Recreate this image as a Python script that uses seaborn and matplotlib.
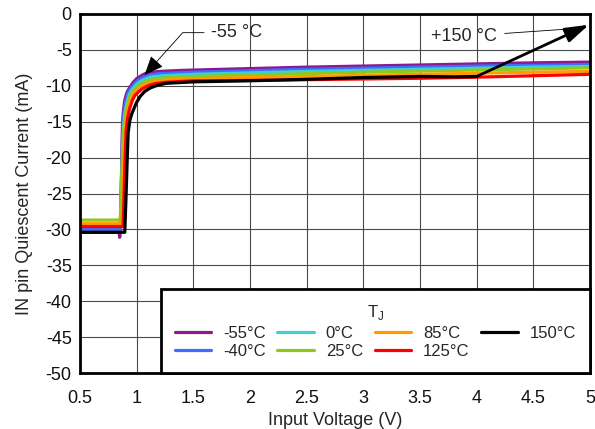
import matplotlib
matplotlib.use("Agg")
import matplotlib.pyplot as plt
import seaborn as sns
import pandas as pd

# ---- data ----
labels = ["-55°C", "-40°C", "0°C", "25°C", "85°C", "125°C", "150°C"]
colors = ["#8B1A8B", "#3F6BFF", "#3FCFD6", "#8DC81E", "#FF9A00", "#FF0000", "#000000"]

v_m55 = [0.5, 0.845, 0.85, 0.855, 0.86, 0.868, 0.875, 0.885, 0.895, 0.915, 0.94, 0.97, 1.0, 1.05, 1.09, 1.2, 1.4, 2.0, 2.5, 3.0, 3.5, 4.0, 4.5, 5.0]
i_m55 = [-30.4, -30.4, -31.1, -30.4, -27.0, -21.0, -15.0, -13.2, -12.0, -10.9, -10.2, -9.5, -9.0, -8.5, -8.2, -8.0, -7.85, -7.6, -7.4, -7.25, -7.1, -6.95, -6.8, -6.7]

v_m40 = [0.5, 0.855, 0.862, 0.87, 0.878, 0.89, 0.905, 0.925, 0.95, 0.98, 1.01, 1.06, 1.11, 1.2, 1.5, 2.0, 2.5, 3.0, 3.5, 4.0, 4.5, 5.0]
i_m40 = [-30.0, -30.0, -26.0, -20.0, -15.3, -13.4, -12.1, -11.0, -10.3, -9.7, -9.25, -8.8, -8.5, -8.3, -8.1, -7.9, -7.7, -7.55, -7.4, -7.25, -7.15, -7.05]

v_0 = [0.5, 0.86, 0.868, 0.876, 0.885, 0.898, 0.915, 0.935, 0.96, 0.99, 1.02, 1.07, 1.12, 1.22, 1.5, 2.0, 2.5, 3.0, 3.5, 4.0, 4.5, 5.0]
i_0 = [-29.5, -29.5, -25.5, -20.0, -15.5, -13.6, -12.3, -11.2, -10.5, -9.95, -9.5, -9.1, -8.8, -8.6, -8.4, -8.2, -8.0, -7.85, -7.7, -7.55, -7.4, -7.3]

v_25 = [0.5, 0.855, 0.865, 0.875, 0.888, 0.902, 0.92, 0.942, 0.968, 1.0, 1.03, 1.08, 1.14, 1.25, 1.5, 2.0, 2.5, 3.0, 3.5, 4.0, 4.5, 5.0]
i_25 = [-28.7, -28.7, -24.0, -19.0, -15.7, -13.8, -12.5, -11.4, -10.7, -10.2, -9.8, -9.4, -9.1, -8.9, -8.7, -8.5, -8.3, -8.1, -7.95, -7.8, -7.65, -7.5]

v_85 = [0.5, 0.87, 0.878, 0.887, 0.897, 0.91, 0.928, 0.95, 0.976, 1.01, 1.04, 1.09, 1.15, 1.26, 1.5, 2.0, 2.5, 3.0, 3.5, 4.0, 4.5, 5.0]
i_85 = [-29.2, -29.2, -25.0, -20.0, -16.0, -14.2, -12.9, -11.8, -11.0, -10.5, -10.1, -9.7, -9.4, -9.2, -9.0, -8.85, -8.7, -8.55, -8.4, -8.25, -8.1, -8.0]

v_125 = [0.5, 0.88, 0.888, 0.897, 0.907, 0.92, 0.937, 0.96, 0.985, 1.02, 1.05, 1.1, 1.16, 1.26, 1.5, 2.0, 2.5, 3.0, 3.5, 4.0, 4.5, 5.0]
i_125 = [-29.6, -29.6, -25.5, -20.5, -16.3, -14.5, -13.2, -12.1, -11.3, -10.8, -10.4, -10.0, -9.7, -9.5, -9.3, -9.25, -9.15, -9.05, -8.95, -8.8, -8.6, -8.4]

v_150 = [0.5, 0.895, 0.905, 0.915, 0.925, 0.94, 0.955, 0.97, 1.0, 1.03, 1.07, 1.12, 1.18, 1.26, 1.5, 2.0, 2.5, 3.0, 3.5, 3.8, 4.0]
i_150 = [-30.4, -30.4, -26.0, -21.0, -16.5, -14.8, -14.0, -13.4, -12.3, -11.5, -10.8, -10.3, -9.95, -9.65, -9.45, -9.3, -9.1, -8.85, -8.7, -8.75, -8.7]

xs = [v_m55, v_m40, v_0, v_25, v_85, v_125, v_150]
ys = [i_m55, i_m40, i_0, i_25, i_85, i_125, i_150]

x_ticks = [0.5, 1, 1.5, 2, 2.5, 3, 3.5, 4, 4.5, 5]
x_tick_labels = ["0.5", "1", "1.5", "2", "2.5", "3", "3.5", "4", "4.5", "5"]
y_ticks = [0, -5, -10, -15, -20, -25, -30, -35, -40, -45, -50]

frames = []
for lab, xv, yv in zip(labels, xs, ys):
    frames.append(pd.DataFrame({"V": xv, "I": yv, "T": lab}))
df = pd.concat(frames, ignore_index=True)

sns.set_theme(style="white")
plt.rcParams["font.family"] = ["Liberation Sans", "DejaVu Sans"]
plt.rcParams["axes.unicode_minus"] = False

fig = plt.figure(figsize=(5.95, 4.29), dpi=100)
ax = fig.add_axes([80 / 595, 1 - 373 / 429, 510 / 595, 359 / 429])

sns.lineplot(data=df, x="V", y="I", hue="T", hue_order=labels,
             palette=dict(zip(labels, colors)), estimator=None, sort=False,
             linewidth=2.3, ax=ax, legend=True)

ax.set_xlim(0.5, 5)
ax.set_ylim(-50, 0)
ax.set_xticks(x_ticks)
ax.set_xticklabels(x_tick_labels)
ax.set_yticks(y_ticks)
ax.grid(True, color="#4a4a4a", linewidth=0.8)
ax.set_axisbelow(True)
ax.tick_params(axis="x", length=0, pad=12.5, labelsize=13, colors="#111111")
ax.tick_params(axis="y", length=0, pad=6, labelsize=13, colors="#111111")
for s in ax.spines.values():
    s.set_color("black")
    s.set_linewidth(2.0)
ax.set_xlabel("Input Voltage (V)", fontsize=13, labelpad=3)
ax.set_ylabel("IN pin Quiescent Current (mA)", fontsize=13, labelpad=9)

# annotations
ax.annotate("-55 °C", xy=(1.07, -8.5), xytext=(1.66, -2.6),
            fontsize=13, ha="left", va="center",
            arrowprops=dict(arrowstyle="-|>,head_length=1.0,head_width=0.42",
                            mutation_scale=12, color="black", lw=0.6,
                            connectionstyle="angle,angleA=0,angleB=48,rad=0",
                            shrinkA=3, shrinkB=0))
ax.annotate("", xy=(4.99, -1.5), xytext=(4.0, -8.7),
            arrowprops=dict(arrowstyle="-|>,head_length=1.2,head_width=0.38",
                            mutation_scale=12, color="black", lw=2.0,
                            shrinkA=0, shrinkB=0))
ax.annotate("+150 °C", xy=(4.8, -2.1), xytext=(3.6, -3.1),
            fontsize=13, ha="left", va="center",
            arrowprops=dict(arrowstyle="-", color="black", lw=0.6,
                            shrinkA=3, shrinkB=0))

handles, labs = ax.get_legend_handles_labels()
for h in handles:
    h.set_linewidth(2.3)
leg = ax.legend(handles, labs, ncol=4, loc="lower right", bbox_to_anchor=(1, 0),
                borderaxespad=0, title="T$_\\mathregular{J}$", fontsize=12,
                title_fontsize=12, frameon=True, fancybox=False,
                handlelength=2.2, columnspacing=0.7, handletextpad=0.7,
                labelspacing=0.2, borderpad=0.85)
leg.get_frame().set_edgecolor("black")
leg.get_frame().set_linewidth(2.0)
leg.get_frame().set_alpha(1)

fig.savefig("out.png", dpi=100)
